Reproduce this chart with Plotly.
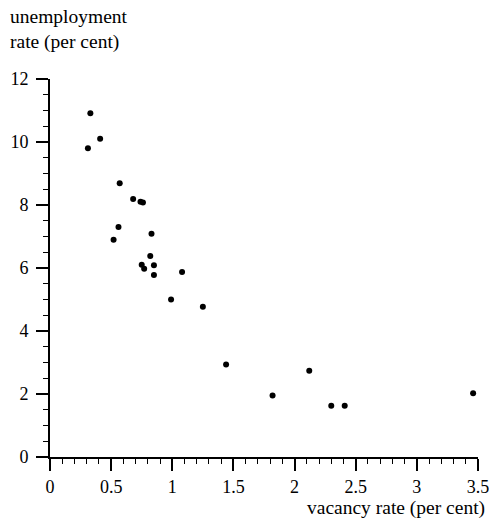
import plotly.graph_objects as go

vacancy_rate = [0.33, 0.41, 0.31, 0.57, 0.68, 0.74, 0.76, 0.56, 0.52, 0.83, 0.82,
                0.75, 0.77, 0.85, 0.85, 1.08, 0.99, 1.25, 1.44, 2.12, 1.82, 2.30, 2.41, 3.46]
unemployment_rate = [10.91, 10.10, 9.80, 8.69, 8.19, 8.10, 8.08, 7.30, 6.90, 7.09, 6.38,
                     6.10, 5.98, 6.09, 5.78, 5.87, 5.00, 4.77, 2.94, 2.74, 1.95, 1.63, 1.63, 2.02]

x_ticks = [0, 0.5, 1, 1.5, 2, 2.5, 3, 3.5]
x_tick_labels = ["0", "0.5", "1", "1.5", "2", "2.5", "3", "3.5"]
y_ticks = [0, 2, 4, 6, 8, 10, 12]
y_tick_labels = ["0", "2", "4", "6", "8", "10", "12"]

FONT = "Times New Roman"

fig = go.Figure()
fig.add_trace(go.Scatter(
    x=vacancy_rate, y=unemployment_rate, mode="markers",
    marker=dict(color="black", size=6, line=dict(width=0)),
    showlegend=False, cliponaxis=False,
))

fig.update_layout(
    width=490, height=521,
    margin=dict(l=50, r=12, t=79, b=64, autoexpand=False),
    paper_bgcolor="white", plot_bgcolor="white",
    font=dict(family=FONT, size=18, color="black"),
    xaxis=dict(
        range=[0, 3.5], tickvals=x_ticks, ticktext=x_tick_labels, automargin=False,
        showgrid=False, zeroline=False, showline=True, linecolor="black", linewidth=2,
        ticks="outside", ticklen=12, tickwidth=1.5, tickcolor="black",
        minor=dict(dtick=0.1, tick0=0, ticks="outside", ticklen=5, tickwidth=1, tickcolor="black"),
        tickfont=dict(family=FONT, size=18),
    ),
    yaxis=dict(
        range=[0, 12], tickvals=y_ticks, ticktext=y_tick_labels, automargin=False,
        showgrid=False, zeroline=False, showline=True, linecolor="black", linewidth=2,
        ticks="outside", ticklen=12, tickwidth=1.5, tickcolor="black",
        minor=dict(dtick=0.5, tick0=0, ticks="outside", ticklen=5, tickwidth=1, tickcolor="black"),
        tickfont=dict(family=FONT, size=18), ticklabelstandoff=4,
    ),
    annotations=[
        dict(text="vacancy rate (per cent)", xref="paper", yref="paper",
             x=1.021, y=-0.135, xanchor="right", yanchor="middle", showarrow=False,
             font=dict(family=FONT, size=19.5, color="black")),
        dict(text="unemployment<br>rate (per cent)", xref="paper", yref="paper",
             x=-0.098, y=1.198, xanchor="left", yanchor="top", align="left", showarrow=False,
             font=dict(family=FONT, size=19.5, color="black")),
    ],
)

fig.write_html("out.html", config={"displayModeBar": False},
               post_script="document.body.style.margin='0';document.body.style.padding='0';")
